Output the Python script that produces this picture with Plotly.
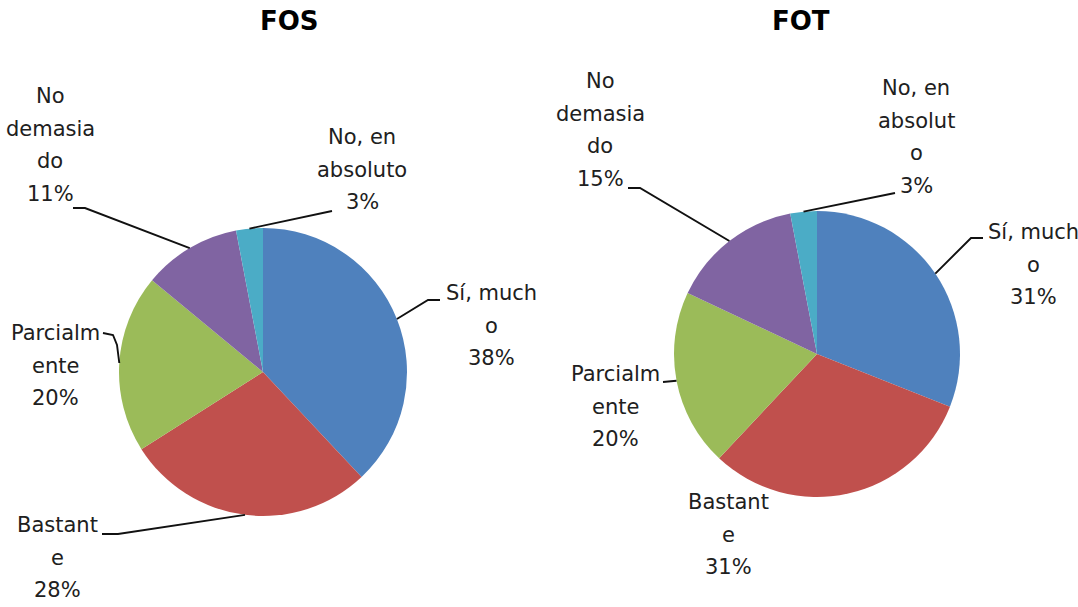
import math
import plotly.graph_objects as go

W, H = 1078, 607

# ---- data ----
categories = ["Sí, mucho", "Bastante", "Parcialmente", "No demasiado", "No, en absoluto"]
fos_values = [38, 28, 20, 11, 3]
fot_values = [31, 31, 20, 15, 3]
colors = ["#4F81BD", "#C0504D", "#9BBB59", "#8064A2", "#4BACC6"]
fos_label_lines = [["Sí, much", "o"], ["Bastant", "e"], ["Parcialm", "ente"],
                   ["No", "demasia", "do"], ["No, en", "absoluto"]]
fot_label_lines = [["Sí, much", "o"], ["Bastant", "e"], ["Parcialm", "ente"],
                   ["No", "demasia", "do"], ["No, en", "absolut", "o"]]

# ---- layout settings (pixel positions) ----
pies = [
    dict(title="FOS", values=fos_values, lines=fos_label_lines,
         center=(263, 372), r=144, title_pos=(289, 21),
         label_pos=[(491, 293), (57, 525), (55, 333), (50, 96), (362, 137)],
         knees=[[(428, 300), (440, 300)], [(118, 534), (102, 534)],
                [(117, 345), (113, 335), (103, 333)], [(85, 208), (73, 208)],
                [(332, 211)]]),
    dict(title="FOT", values=fot_values, lines=fot_label_lines,
         center=(817, 354), r=143, title_pos=(801, 21),
         label_pos=[(1033, 232), (728, 502), (615, 374), (600, 81), (916, 88)],
         knees=[[(971, 238), (983, 238)], None, [(663, 382)],
                [(640, 188), (628, 188)], [(895, 193)]]),
]

LINE_STEP = 32.5
TEXT_COLOR = "#202020"
FONT = "DejaVu Sans"

fig = go.Figure()
annotations = []
shapes = []

for p in pies:
    cx, cy = p["center"]
    r = p["r"]
    fig.add_trace(go.Pie(
        values=p["values"], labels=categories, sort=False,
        direction="clockwise", rotation=0, textinfo="none",
        hoverinfo="none",
        marker=dict(colors=colors, line=dict(width=0)),
        domain=dict(x=[(cx - r) / W, (cx + r) / W],
                    y=[(H - cy - r) / H, (H - cy + r) / H]),
        showlegend=False,
    ))
    annotations.append(dict(
        x=p["title_pos"][0], y=p["title_pos"][1], xref="x", yref="y",
        text="<b>%s</b>" % p["title"], showarrow=False,
        font=dict(family=FONT, size=26, color="#000000"),
        xanchor="center", yanchor="middle"))

    total = sum(p["values"])
    cum = 0
    for i, v in enumerate(p["values"]):
        mid = 2 * math.pi * (cum + v / 2) / total
        cum += v
        ex = cx + r * math.sin(mid)
        ey = cy - r * math.cos(mid)
        pct = "%d%%" % round(100 * v / total)
        lines = p["lines"][i] + [pct]
        lx, ly = p["label_pos"][i]
        for k, t in enumerate(lines):
            annotations.append(dict(
                x=lx, y=ly + k * LINE_STEP, xref="x", yref="y", text=t,
                showarrow=False, xanchor="center", yanchor="middle",
                font=dict(family=FONT, size=21, color=TEXT_COLOR)))
        if p["knees"][i]:
            pts = [(ex, ey)] + p["knees"][i]
            path = "M %.1f %.1f " % pts[0] + " ".join("L %.1f %.1f" % q for q in pts[1:])
            shapes.append(dict(type="path", path=path, xref="x", yref="y",
                               line=dict(color="#111111", width=1.9)))

fig.update_layout(
    width=W, height=H,
    margin=dict(l=0, r=0, t=0, b=0),
    paper_bgcolor="white", plot_bgcolor="rgba(0,0,0,0)",
    xaxis=dict(range=[0, W], visible=False, fixedrange=True),
    yaxis=dict(range=[H, 0], visible=False, fixedrange=True),
    annotations=annotations, shapes=shapes,
    showlegend=False, hovermode=False,
)

fig.write_html("out.html", config={"displayModeBar": False},
               post_script="document.body.style.margin='0';document.body.style.overflow='hidden';")
